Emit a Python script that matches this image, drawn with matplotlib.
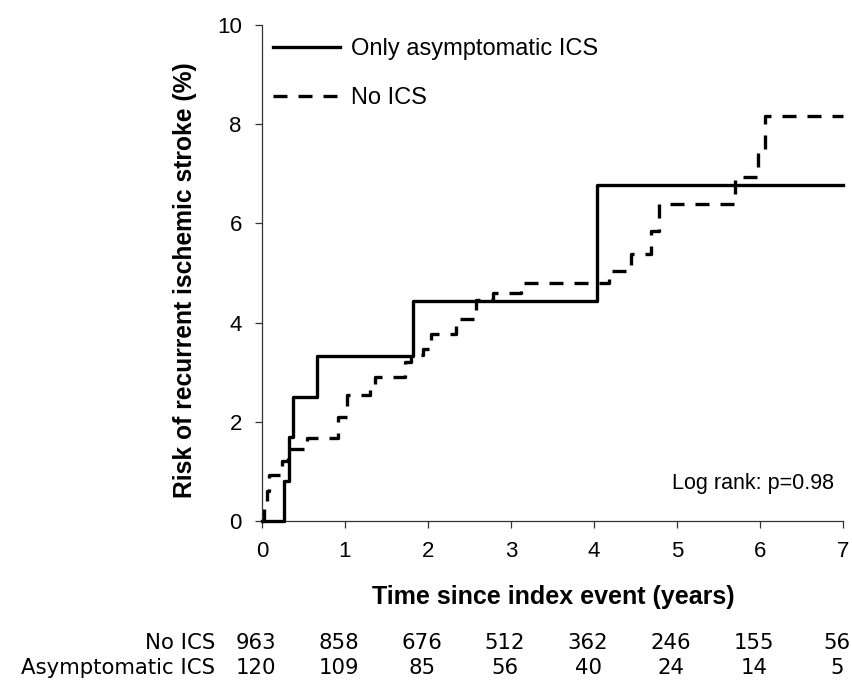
import matplotlib
matplotlib.use("Agg")
import matplotlib.pyplot as plt
from matplotlib import font_manager
from matplotlib.transforms import blended_transform_factory, offset_copy

plt.rcParams['font.family'] = ['Liberation Sans', 'DejaVu Sans']

# Kaplan-Meier style cumulative risk (%)
t_asym = [0, 0.27, 0.33, 0.37, 0.66, 1.82, 4.04, 7.0]
risk_asym = [0, 0.81, 1.69, 2.50, 3.32, 4.43, 6.77, 6.77]

t_noics = [0, 0.02, 0.06, 0.09, 0.24, 0.31, 0.54, 0.92, 1.02, 1.30, 1.36, 1.72,
           1.80, 1.94, 2.04, 2.34, 2.58, 2.78, 3.12, 4.18, 4.44, 4.69, 4.78,
           5.70, 5.98, 6.06, 7.0]
risk_noics = [0, 0.25, 0.60, 0.92, 1.20, 1.46, 1.68, 2.10, 2.54, 2.67, 2.91, 3.21,
              3.34, 3.46, 3.78, 4.08, 4.45, 4.59, 4.80, 5.04, 5.38, 5.85, 6.40,
              6.93, 7.50, 8.16, 8.16]

# numbers at risk
years = [0, 1, 2, 3, 4, 5, 6, 7]
at_risk_noics = [963, 858, 676, 512, 362, 246, 155, 56]
at_risk_asym = [120, 109, 85, 56, 40, 24, 14, 5]
row_labels = ["No ICS", "Asymptomatic ICS"]

fig = plt.figure(figsize=(8.53, 6.86), dpi=100)
ax = fig.add_axes([262 / 853, 1 - 521 / 686, 581 / 853, 496 / 686])

ax.step(t_asym, risk_asym, where='post', color='black', lw=2.4,
        label='Only asymptomatic ICS', clip_on=False, zorder=3)
ax.step(t_noics, risk_noics, where='post', color='black', lw=2.4,
        linestyle=(0, (4.2, 3.3)), label='No ICS', clip_on=False, zorder=2)

ax.set_xlim(0, 7)
ax.set_ylim(0, 10)
ax.set_xticks(years)
ax.set_yticks([0, 2, 4, 6, 8, 10])
for s in ['top', 'right']:
    ax.spines[s].set_visible(False)
for s in ['left', 'bottom']:
    ax.spines[s].set_linewidth(0.9)
    ax.spines[s].set_color('#333333')
ax.tick_params(direction='out', length=5, width=0.9, color='#333333',
               labelsize=16, pad=9.5)

ax.legend(loc='upper left', bbox_to_anchor=(0.019, 0.973), frameon=False,
          fontsize=17, handlelength=2.85, handletextpad=0.45,
          labelspacing=1.12, borderaxespad=0, borderpad=0)

ax.text(0.985, 0.075, "Log rank: p=0.98", transform=ax.transAxes,
        ha='right', va='center', fontsize=15.5)

fig.text(185 / 853, 1 - 280 / 686, "Risk of recurrent ischemic stroke (%)",
         rotation=90, ha='center', va='center', fontsize=17.7, fontweight='bold')

names = {f.name for f in font_manager.fontManager.ttflist}
if 'Liberation Sans Narrow' in names:
    fig.text(553 / 853, 1 - 597 / 686, "Time since index event (years)",
             ha='center', va='center', fontsize=21, fontweight='bold',
             family='Liberation Sans Narrow')
else:
    fig.text(553 / 853, 1 - 597 / 686, "Time since index event (years)",
             ha='center', va='center', fontsize=18, fontweight='bold')

# numbers-at-risk table
trans = blended_transform_factory(ax.transData, fig.transFigure)
num_trans = offset_copy(trans, fig=fig, x=-6, y=0, units='dots')
row_y = [1 - 643 / 686, 1 - 668 / 686]
for label, counts, yy in zip(row_labels, [at_risk_noics, at_risk_asym], row_y):
    fig.text(215 / 853, yy, label, ha='right', va='center',
             fontsize=15.3, family='DejaVu Sans')
    for x, n in zip(years, counts):
        ax.text(x, yy, str(n), transform=num_trans, ha='center', va='center',
                fontsize=15.3, family='DejaVu Sans', clip_on=False)

fig.savefig("out.png", dpi=100)
